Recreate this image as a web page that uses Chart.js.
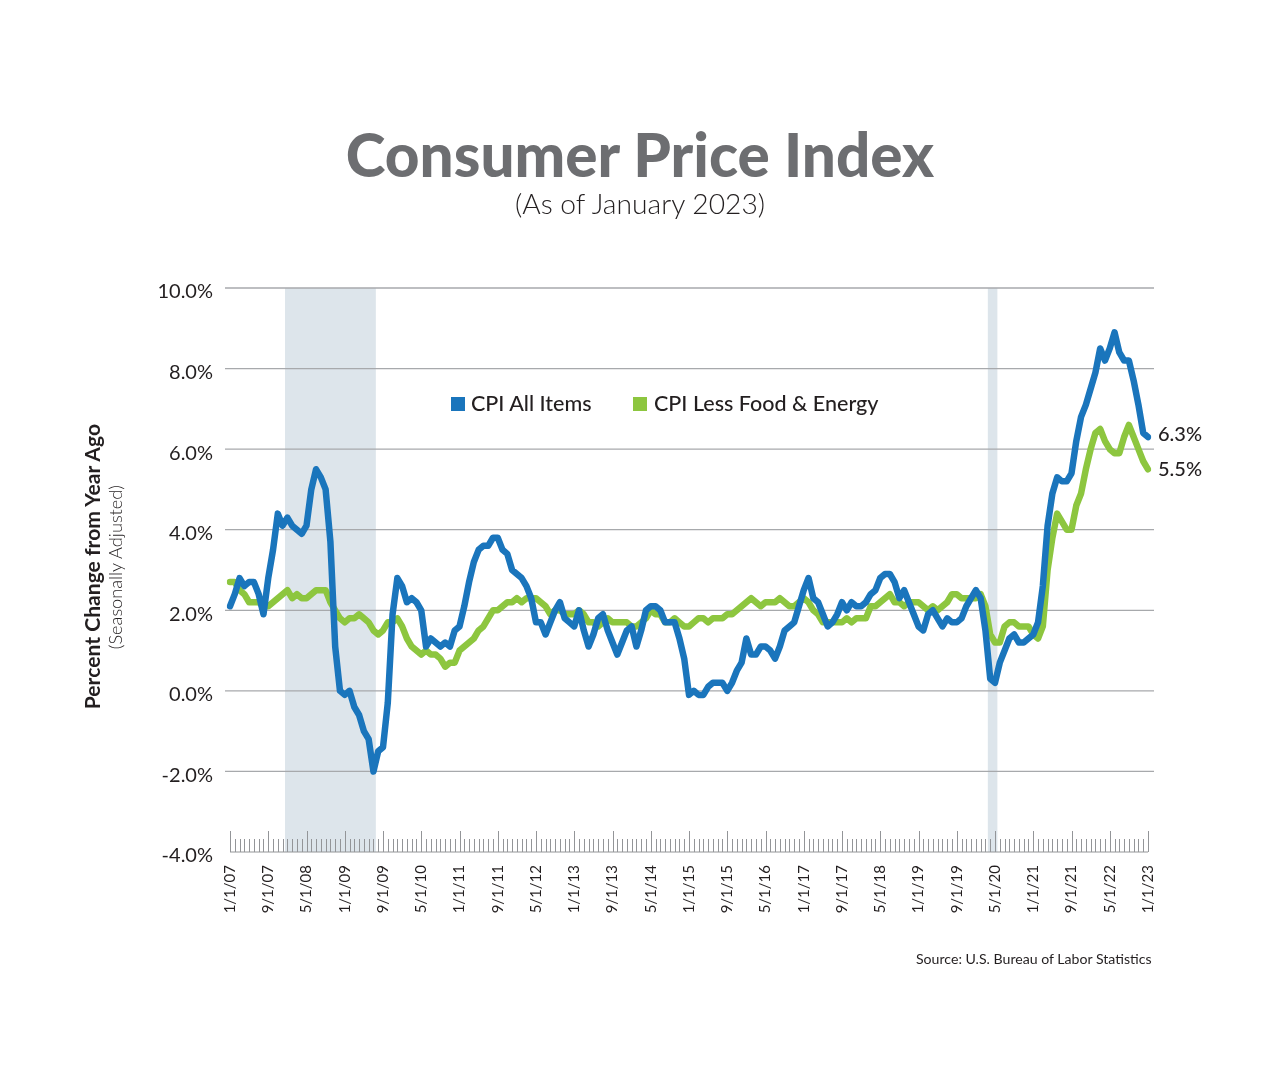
<!DOCTYPE html>
<html>
<head>
<meta charset="utf-8">
<script src="https://cdn.jsdelivr.net/npm/chart.js@4.4.0/dist/chart.umd.min.js"></script>
<style>
  html, body { margin: 0; padding: 0; background: #fff; }
  #wrap { position: relative; width: 1280px; height: 1092px; overflow: hidden; font-family: Lato, "Open Sans", sans-serif; color: #231f20; }
  #c { position: absolute; left: 0; top: 0; }
  .t { position: absolute; white-space: nowrap; line-height: 1; }
  .center { left: 0; width: 1280px; text-align: center; }
  .center span { display: inline-block; }
  #title { font-weight: 900; color: #6d6e71; font-size: 56px; }
  #subtitle { font-weight: 300; font-size: 28px; color: #231f20; }
  .leg { position: absolute; white-space: nowrap; line-height: 1; font-size: 21px; font-weight: 500; }
  .sq { position: absolute; width: 14px; height: 14px; }
  .rot { position: absolute; width: 500px; text-align: center; transform: rotate(-90deg); transform-origin: 50% 50%; line-height: 1; white-space: nowrap; }
  .rot span { display: inline-block; }
  #ytitle { font-weight: 700; font-size: 20px; }
  #ysub { font-weight: 300; font-size: 16px; }
  #source { font-size: 14px; font-weight: 400; }
</style>
</head>
<body>
<div id="wrap">
  <canvas id="c" width="1280" height="1092"></canvas>
  <div class="t center" id="titleBox"><span id="title">Consumer Price Index</span></div>
  <div class="t center" id="subBox"><span id="subtitle">(As of January 2023)</span></div>
  <div class="sq" id="sq1"></div><div class="leg" id="leg1">CPI All Items</div>
  <div class="sq" id="sq2"></div><div class="leg" id="leg2">CPI Less Food &amp; Energy</div>
  <div class="rot" id="ytitleBox"><span id="ytitle">Percent Change from Year Ago</span></div>
  <div class="rot" id="ysubBox"><span id="ysub">(Seasonally Adjusted)</span></div>
  <div class="t" id="source">Source: U.S. Bureau of Labor Statistics</div>
</div>
<script>
// ---------------- DATA ----------------
// CPI All Items, % change from year ago (seasonally adjusted), Jan 2007 .. Jan 2023
const cpiAll = [
  2.1, 2.4, 2.8, 2.6, 2.7, 2.7, 2.4, 1.9, 2.8, 3.5, 4.4, 4.1,   // 2007
  4.3, 4.1, 4.0, 3.9, 4.1, 5.0, 5.5, 5.3, 5.0, 3.7, 1.1, 0.0,   // 2008
  -0.1, 0.0, -0.4, -0.6, -1.0, -1.2, -2.0, -1.5, -1.4, -0.3, 1.9, 2.8, // 2009
  2.6, 2.2, 2.3, 2.2, 2.0, 1.1, 1.3, 1.2, 1.1, 1.2, 1.1, 1.5,   // 2010
  1.6, 2.1, 2.7, 3.2, 3.5, 3.6, 3.6, 3.8, 3.8, 3.5, 3.4, 3.0,   // 2011
  2.9, 2.8, 2.6, 2.3, 1.7, 1.7, 1.4, 1.7, 2.0, 2.2, 1.8, 1.7,   // 2012
  1.6, 2.0, 1.5, 1.1, 1.4, 1.8, 1.9, 1.5, 1.2, 0.9, 1.2, 1.5,   // 2013
  1.6, 1.1, 1.5, 2.0, 2.1, 2.1, 2.0, 1.7, 1.7, 1.7, 1.3, 0.8,   // 2014
  -0.1, 0.0, -0.1, -0.1, 0.1, 0.2, 0.2, 0.2, 0.0, 0.2, 0.5, 0.7, // 2015
  1.3, 0.9, 0.9, 1.1, 1.1, 1.0, 0.8, 1.1, 1.5, 1.6, 1.7, 2.1,   // 2016
  2.5, 2.8, 2.3, 2.2, 1.9, 1.6, 1.7, 1.9, 2.2, 2.0, 2.2, 2.1,   // 2017
  2.1, 2.2, 2.4, 2.5, 2.8, 2.9, 2.9, 2.7, 2.3, 2.5, 2.2, 1.9,   // 2018
  1.6, 1.5, 1.9, 2.0, 1.8, 1.6, 1.8, 1.7, 1.7, 1.8, 2.1, 2.3,   // 2019
  2.5, 2.3, 1.5, 0.3, 0.2, 0.7, 1.0, 1.3, 1.4, 1.2, 1.2, 1.3,   // 2020
  1.4, 1.7, 2.6, 4.1, 4.9, 5.3, 5.2, 5.2, 5.4, 6.2, 6.8, 7.1,   // 2021
  7.5, 7.9, 8.5, 8.2, 8.5, 8.9, 8.4, 8.2, 8.2, 7.7, 7.1, 6.4,   // 2022
  6.3                                                           // 2023
];
// CPI Less Food & Energy, % change from year ago (seasonally adjusted)
const cpiCore = [
  2.7, 2.7, 2.5, 2.4, 2.2, 2.2, 2.2, 2.1, 2.1, 2.2, 2.3, 2.4,   // 2007
  2.5, 2.3, 2.4, 2.3, 2.3, 2.4, 2.5, 2.5, 2.5, 2.2, 2.0, 1.8,   // 2008
  1.7, 1.8, 1.8, 1.9, 1.8, 1.7, 1.5, 1.4, 1.5, 1.7, 1.7, 1.8,   // 2009
  1.6, 1.3, 1.1, 1.0, 0.9, 1.0, 0.9, 0.9, 0.8, 0.6, 0.7, 0.7,   // 2010
  1.0, 1.1, 1.2, 1.3, 1.5, 1.6, 1.8, 2.0, 2.0, 2.1, 2.2, 2.2,   // 2011
  2.3, 2.2, 2.3, 2.3, 2.3, 2.2, 2.1, 1.9, 2.0, 2.0, 1.9, 1.9,   // 2012
  1.9, 2.0, 1.9, 1.7, 1.7, 1.6, 1.7, 1.8, 1.7, 1.7, 1.7, 1.7,   // 2013
  1.6, 1.6, 1.7, 1.8, 2.0, 1.9, 1.9, 1.7, 1.7, 1.8, 1.7, 1.6,   // 2014
  1.6, 1.7, 1.8, 1.8, 1.7, 1.8, 1.8, 1.8, 1.9, 1.9, 2.0, 2.1,   // 2015
  2.2, 2.3, 2.2, 2.1, 2.2, 2.2, 2.2, 2.3, 2.2, 2.1, 2.1, 2.2,   // 2016
  2.3, 2.2, 2.0, 1.9, 1.7, 1.7, 1.7, 1.7, 1.7, 1.8, 1.7, 1.8,   // 2017
  1.8, 1.8, 2.1, 2.1, 2.2, 2.3, 2.4, 2.2, 2.2, 2.1, 2.2, 2.2,   // 2018
  2.2, 2.1, 2.0, 2.1, 2.0, 2.1, 2.2, 2.4, 2.4, 2.3, 2.3, 2.3,   // 2019
  2.3, 2.4, 2.1, 1.4, 1.2, 1.2, 1.6, 1.7, 1.7, 1.6, 1.6, 1.6,   // 2020
  1.4, 1.3, 1.6, 3.0, 3.8, 4.4, 4.2, 4.0, 4.0, 4.6, 4.9, 5.5,   // 2021
  6.0, 6.4, 6.5, 6.2, 6.0, 5.9, 5.9, 6.3, 6.6, 6.3, 6.0, 5.7,   // 2022
  5.5                                                           // 2023
];
// Monthly category labels (first of each month, Jan 2007 .. Jan 2023)
const months = [];
for (let yr = 2007; yr <= 2023; yr++) {
  for (let m = 1; m <= 12; m++) {
    if (yr === 2023 && m > 1) break;
    months.push(m + '/1/' + String(yr).slice(2));
  }
}
// Labelled x ticks
const tickLabels = ['1/1/07','9/1/07','5/1/08','1/1/09','9/1/09','5/1/10','1/1/11','9/1/11','5/1/12',
  '1/1/13','9/1/13','5/1/14','1/1/15','9/1/15','5/1/16','1/1/17','9/1/17','5/1/18','1/1/19','9/1/19',
  '5/1/20','1/1/21','9/1/21','5/1/22','1/1/23'];
// Recession periods (shaded), first and last month
const recessions = [['12/1/07', '6/1/09'], ['3/1/20', '4/1/20']];
const seriesNames = ['CPI All Items', 'CPI Less Food & Energy'];

// ---------------- STYLE ----------------
const BLUE = '#1a75bc';
const GREEN = '#8dc63f';
const SHADE = '#dde5eb';
const GRID = '#a7a9ac';
const TEXT = '#231f20';
const FONT = 'Lato, "Open Sans", sans-serif';

const deco = {
  id: 'deco',
  beforeDraw(chart) {
    const { ctx, chartArea: a, scales: { x, y } } = chart;
    ctx.save();
    ctx.fillStyle = SHADE;
    recessions.forEach(([s, e]) => {
      const x0 = x.getPixelForValue(months.indexOf(s) + 0.5);
      const x1 = x.getPixelForValue(months.indexOf(e) + 1.5);
      ctx.fillRect(x0, a.top, x1 - x0, a.bottom - a.top);
    });
    ctx.strokeStyle = GRID;
    ctx.lineWidth = 1.3;
    y.ticks.forEach(t => {
      if (t.value <= y.min) return;
      const py = y.getPixelForValue(t.value);
      ctx.beginPath();
      ctx.moveTo(a.left - 5, py);
      ctx.lineTo(a.right + 6, py);
      ctx.stroke();
    });
    const by = y.getPixelForValue(y.min);
    ctx.strokeStyle = '#939598';
    ctx.lineWidth = 1.2;
    ctx.beginPath();
    ctx.moveTo(a.left, by);
    ctx.lineTo(a.right, by);
    ctx.stroke();
    ctx.lineWidth = 1;
    months.forEach((lab, i) => {
      const px = Math.round(x.getPixelForValue(i)) + 0.5;
      const len = tickLabels.includes(lab) ? 21 : 13;
      ctx.beginPath();
      ctx.moveTo(px, by);
      ctx.lineTo(px, by - len);
      ctx.stroke();
    });
    ctx.restore();
  },
  afterDatasetsDraw(chart) {
    const { ctx, scales: { x, y } } = chart;
    const last = months.length - 1;
    const shifts = [-3, 0];
    ctx.save();
    ctx.font = '500 20px ' + FONT;
    ctx.fillStyle = TEXT;
    ctx.textAlign = 'left';
    ctx.textBaseline = 'middle';
    chart.data.datasets.forEach((ds, i) => {
      const v = ds.data[last];
      ctx.fillText(v.toFixed(1) + '%', x.getPixelForValue(last) + 10, y.getPixelForValue(v) + shifts[i]);
    });
    ctx.restore();
  }
};

const chart = new Chart(document.getElementById('c'), {
  type: 'line',
  data: {
    labels: months,
    datasets: [
      { label: seriesNames[0], data: cpiAll, borderColor: BLUE, backgroundColor: BLUE, borderWidth: 6.5,
        pointRadius: 0, tension: 0, borderJoinStyle: 'round', borderCapStyle: 'round', fill: false },
      { label: seriesNames[1], data: cpiCore, borderColor: GREEN, backgroundColor: GREEN, borderWidth: 6.5,
        pointRadius: 0, tension: 0, borderJoinStyle: 'round', borderCapStyle: 'round', fill: false }
    ]
  },
  options: {
    responsive: false,
    animation: false,
    layout: { padding: { top: 288, right: 132, left: 0, bottom: 0 } },
    plugins: { legend: { display: false }, tooltip: { enabled: false }, title: { display: false } },
    scales: {
      x: {
        type: 'category',
        offset: false,
        grid: { display: false, drawTicks: false },
        border: { display: false },
        ticks: {
          autoSkip: false, maxRotation: 90, minRotation: 90, padding: 13,
          font: { family: FONT, size: 15 }, color: TEXT,
          callback: function (v) { const l = this.getLabelForValue(v); return tickLabels.includes(l) ? l : ''; }
        },
        afterFit: s => { s.height = 240; }
      },
      y: {
        min: -4, max: 10,
        grid: { display: false, drawTicks: false },
        border: { display: false },
        ticks: { stepSize: 2, padding: 17, labelOffset: 4, font: { family: FONT, size: 20 }, color: TEXT,
          callback: v => v.toFixed(1) + '%' },
        afterFit: s => { s.width = 230; }
      }
    }
  },
  plugins: [deco]
});

// ---------------- HTML text layout ----------------
function fit(el, w) {
  const r = el.offsetWidth;
  const fs = parseFloat(getComputedStyle(el).fontSize);
  const nf = fs * w / r;
  el.style.fontSize = nf + 'px';
  return nf;
}
function place(box, baseline, fs) { box.style.top = (baseline - 0.887 * fs) + 'px'; }

let fs = fit(document.getElementById('title'), 588);
place(document.getElementById('titleBox'), 177, fs);
fs = fit(document.getElementById('subtitle'), 250);
place(document.getElementById('subBox'), 214, fs);

const sq1 = document.getElementById('sq1'), sq2 = document.getElementById('sq2');
sq1.style.left = '451px'; sq1.style.top = '397px'; sq1.style.background = BLUE;
sq2.style.left = '633px'; sq2.style.top = '397px'; sq2.style.background = GREEN;
const l1 = document.getElementById('leg1'), l2 = document.getElementById('leg2');
l1.style.left = '471px'; l2.style.left = '654px';
fs = fit(l1, 121); place(l1, 412, fs);
l2.style.fontSize = fs + 'px'; place(l2, 412, fs);

const yt = document.getElementById('ytitle');
fs = fit(yt, 285);
const ytb = document.getElementById('ytitleBox');
ytb.style.height = fs + 'px';
ytb.style.left = (92 - 250) + 'px';
ytb.style.top = (567 - fs / 2) + 'px';
const ys = document.getElementById('ysub');
fs = fit(ys, 165);
const ysb = document.getElementById('ysubBox');
ysb.style.height = fs + 'px';
ysb.style.left = (115 - 250) + 'px';
ysb.style.top = (567 - fs / 2) + 'px';

const src = document.getElementById('source');
fs = fit(src, 236);
src.style.left = (1152 - 236) + 'px';
place(src, 965, fs);
</script>
</body>
</html>
